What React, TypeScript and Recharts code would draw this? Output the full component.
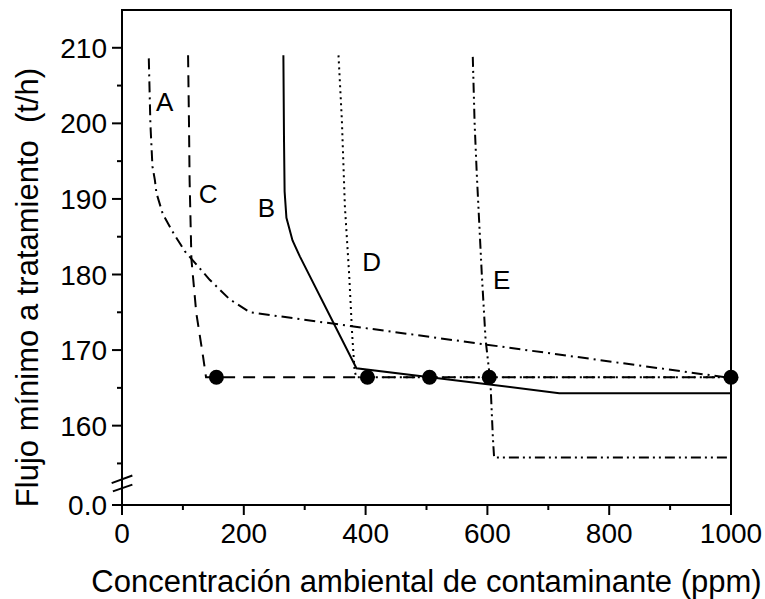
import React from 'react';
import {
  ComposedChart,
  Line,
  Scatter,
  XAxis,
  YAxis,
  ReferenceArea,
  ReferenceDot,
  ReferenceLine,
} from 'recharts';

// Minimum treatment flow vs ambient contaminant concentration, curves A–E
const curveAX = [44, 46.6, 50, 54, 56.5, 67, 85, 103, 144, 177, 210, 1000];
const curveAY = [208.6, 200, 194.3, 192.5, 190.8, 188, 185.4, 183.1, 179.3, 176.7, 175, 166.3];

const curveBX = [265, 266, 267, 270, 280, 292, 385, 718, 1000];
const curveBY = [209, 198, 191, 187.5, 184.5, 182.4, 167.6, 164.3, 164.3];

const curveCX = [108.5, 110, 111, 114, 122, 133, 138, 155, 1000];
const curveCY = [209, 200, 192.5, 182, 174.9, 169.2, 166.4, 166.4, 166.4];

const curveDX = [355.5, 361, 366, 373, 378, 382, 385, 1000];
const curveDY = [209, 200.5, 189, 180, 172, 167.2, 166.4, 166.4];

const curveEX = [576, 579, 582.5, 590.7, 597, 605, 609, 611, 1000];
const curveEY = [208.8, 200, 193.4, 180.2, 171.4, 165.7, 158.4, 155.8, 155.8];

// Operating points on the minimum-flow line
const pointX = [155, 403, 505, 603, 1000];
const pointY = [166.4, 166.4, 166.4, 166.4, 166.4];

// Curve tags
const tagNames = ['A', 'B', 'C', 'D', 'E'];
const tagX = [70, 237.3, 141.3, 410, 623.6];
const tagY = [202.9, 188.8, 190.7, 181.7, 179.3];

const xTicks = [0, 100, 200, 300, 400, 500, 600, 700, 800, 900, 1000];
// broken axis: the bottom edge is labelled 0.0
const yBottom = 149.5;
const yTop = 215;
const yTicks = [yBottom, 155, 160, 165, 170, 175, 180, 185, 190, 195, 200, 205, 210];

const FONT = '"Liberation Sans", Arial, sans-serif';

const toPoints = (xs: number[], ys: number[]) => xs.map((x, i) => ({ x, y: ys[i] }));

const curves = [
  { name: 'A', data: toPoints(curveAX, curveAY), dash: '11 5 2 5' },
  { name: 'B', data: toPoints(curveBX, curveBY), dash: undefined },
  { name: 'C', data: toPoints(curveCX, curveCY), dash: '12 8' },
  { name: 'D', data: toPoints(curveDX, curveDY), dash: '2 4' },
  { name: 'E', data: toPoints(curveEX, curveEY), dash: '10 4 2 4 2 4' },
];

const points = toPoints(pointX, pointY);

const XTick = ({ x, y, payload }: any) => {
  const v = payload.value;
  const major = v % 200 === 0;
  return (
    <g>
      <line x1={x} x2={x} y1={y} y2={y + (major ? 10 : 5)} stroke="#000" strokeWidth={2} />
      {major && (
        <text x={x} y={y + 38} textAnchor="middle" fontSize={28} fontFamily={FONT} fill="#000">
          {v}
        </text>
      )}
    </g>
  );
};

const YTick = ({ x, y, payload }: any) => {
  const v = payload.value;
  const major = v % 10 === 0 || v === yBottom;
  return (
    <g>
      <line x1={x} x2={x - (major ? 10 : 5)} y1={y} y2={y} stroke="#000" strokeWidth={2} />
      {major && (
        <text x={x - 15} y={y} dy="0.36em" textAnchor="end" fontSize={28} fontFamily={FONT} fill="#000">
          {v === yBottom ? '0.0' : v}
        </text>
      )}
    </g>
  );
};

const YTitle = ({ viewBox }: any) => {
  const cx = 27;
  const cy = viewBox.y + viewBox.height / 2 + 30;
  return (
    <text
      x={cx}
      y={cy}
      transform={`rotate(-90, ${cx}, ${cy})`}
      textAnchor="middle"
      dominantBaseline="central"
      fontSize={31}
      fontFamily={FONT}
      fill="#000"
      style={{ whiteSpace: 'pre' }}
    >
      {'Flujo mínimo a tratamiento  (t/h)'}
    </text>
  );
};

export default function App() {
  return (
    <div>
      <style>{'body{margin:0;background:#fff}'}</style>
      <ComposedChart width={765} height={599} margin={{ top: 10, right: 34, bottom: 0, left: 0 }}>
        <XAxis
          type="number"
          dataKey="x"
          domain={[0, 1000]}
          ticks={xTicks}
          interval={0}
          height={94}
          tickSize={0}
          tickMargin={0}
          tickLine={false}
          tick={<XTick />}
          axisLine={{ stroke: '#000', strokeWidth: 2 }}
          label={{
            value: 'Concentración ambiental de contaminante (ppm)',
            position: 'insideBottom',
            offset: 7,
            fontSize: 31,
            fontFamily: FONT,
            fill: '#000',
          }}
        />
        <YAxis
          type="number"
          dataKey="y"
          domain={[yBottom, yTop]}
          allowDataOverflow
          ticks={yTicks}
          interval={0}
          width={122}
          tickSize={0}
          tickMargin={0}
          tickLine={false}
          tick={<YTick />}
          axisLine={{ stroke: '#000', strokeWidth: 2 }}
          label={<YTitle />}
        />

        {/* frame around the plot */}
        <ReferenceArea
          x1={0}
          x2={1000}
          y1={yBottom}
          y2={yTop}
          fill="none"
          stroke="#000"
          strokeWidth={2}
          ifOverflow="visible"
        />

        {/* axis break marks */}
        <ReferenceLine
          segment={[{ x: -17, y: 152.4 }, { x: 17, y: 153.4 }]}
          stroke="#000"
          strokeWidth={2}
          ifOverflow="visible"
        />
        <ReferenceLine
          segment={[{ x: -15, y: 151.3 }, { x: 17, y: 152.2 }]}
          stroke="#000"
          strokeWidth={2}
          ifOverflow="visible"
        />

        {curves.map((c) => (
          <Line
            key={c.name}
            data={c.data}
            dataKey="y"
            type="linear"
            stroke="#000"
            strokeWidth={2}
            strokeDasharray={c.dash}
            dot={false}
            activeDot={false}
            isAnimationActive={false}
          />
        ))}

        <Scatter
          data={points}
          dataKey="y"
          fill="#000"
          isAnimationActive={false}
          shape={(p: any) => <circle cx={p.cx} cy={p.cy} r={7.5} fill="#000" />}
        />

        {tagNames.map((t, i) => (
          <ReferenceDot
            key={t}
            x={tagX[i]}
            y={tagY[i]}
            ifOverflow="visible"
            shape={(p: any) => (
              <text
                x={p.cx}
                y={p.cy}
                dy="0.36em"
                textAnchor="middle"
                fontSize={26}
                fontFamily={FONT}
                fill="#000"
              >
                {t}
              </text>
            )}
          />
        ))}
      </ComposedChart>
    </div>
  );
}
